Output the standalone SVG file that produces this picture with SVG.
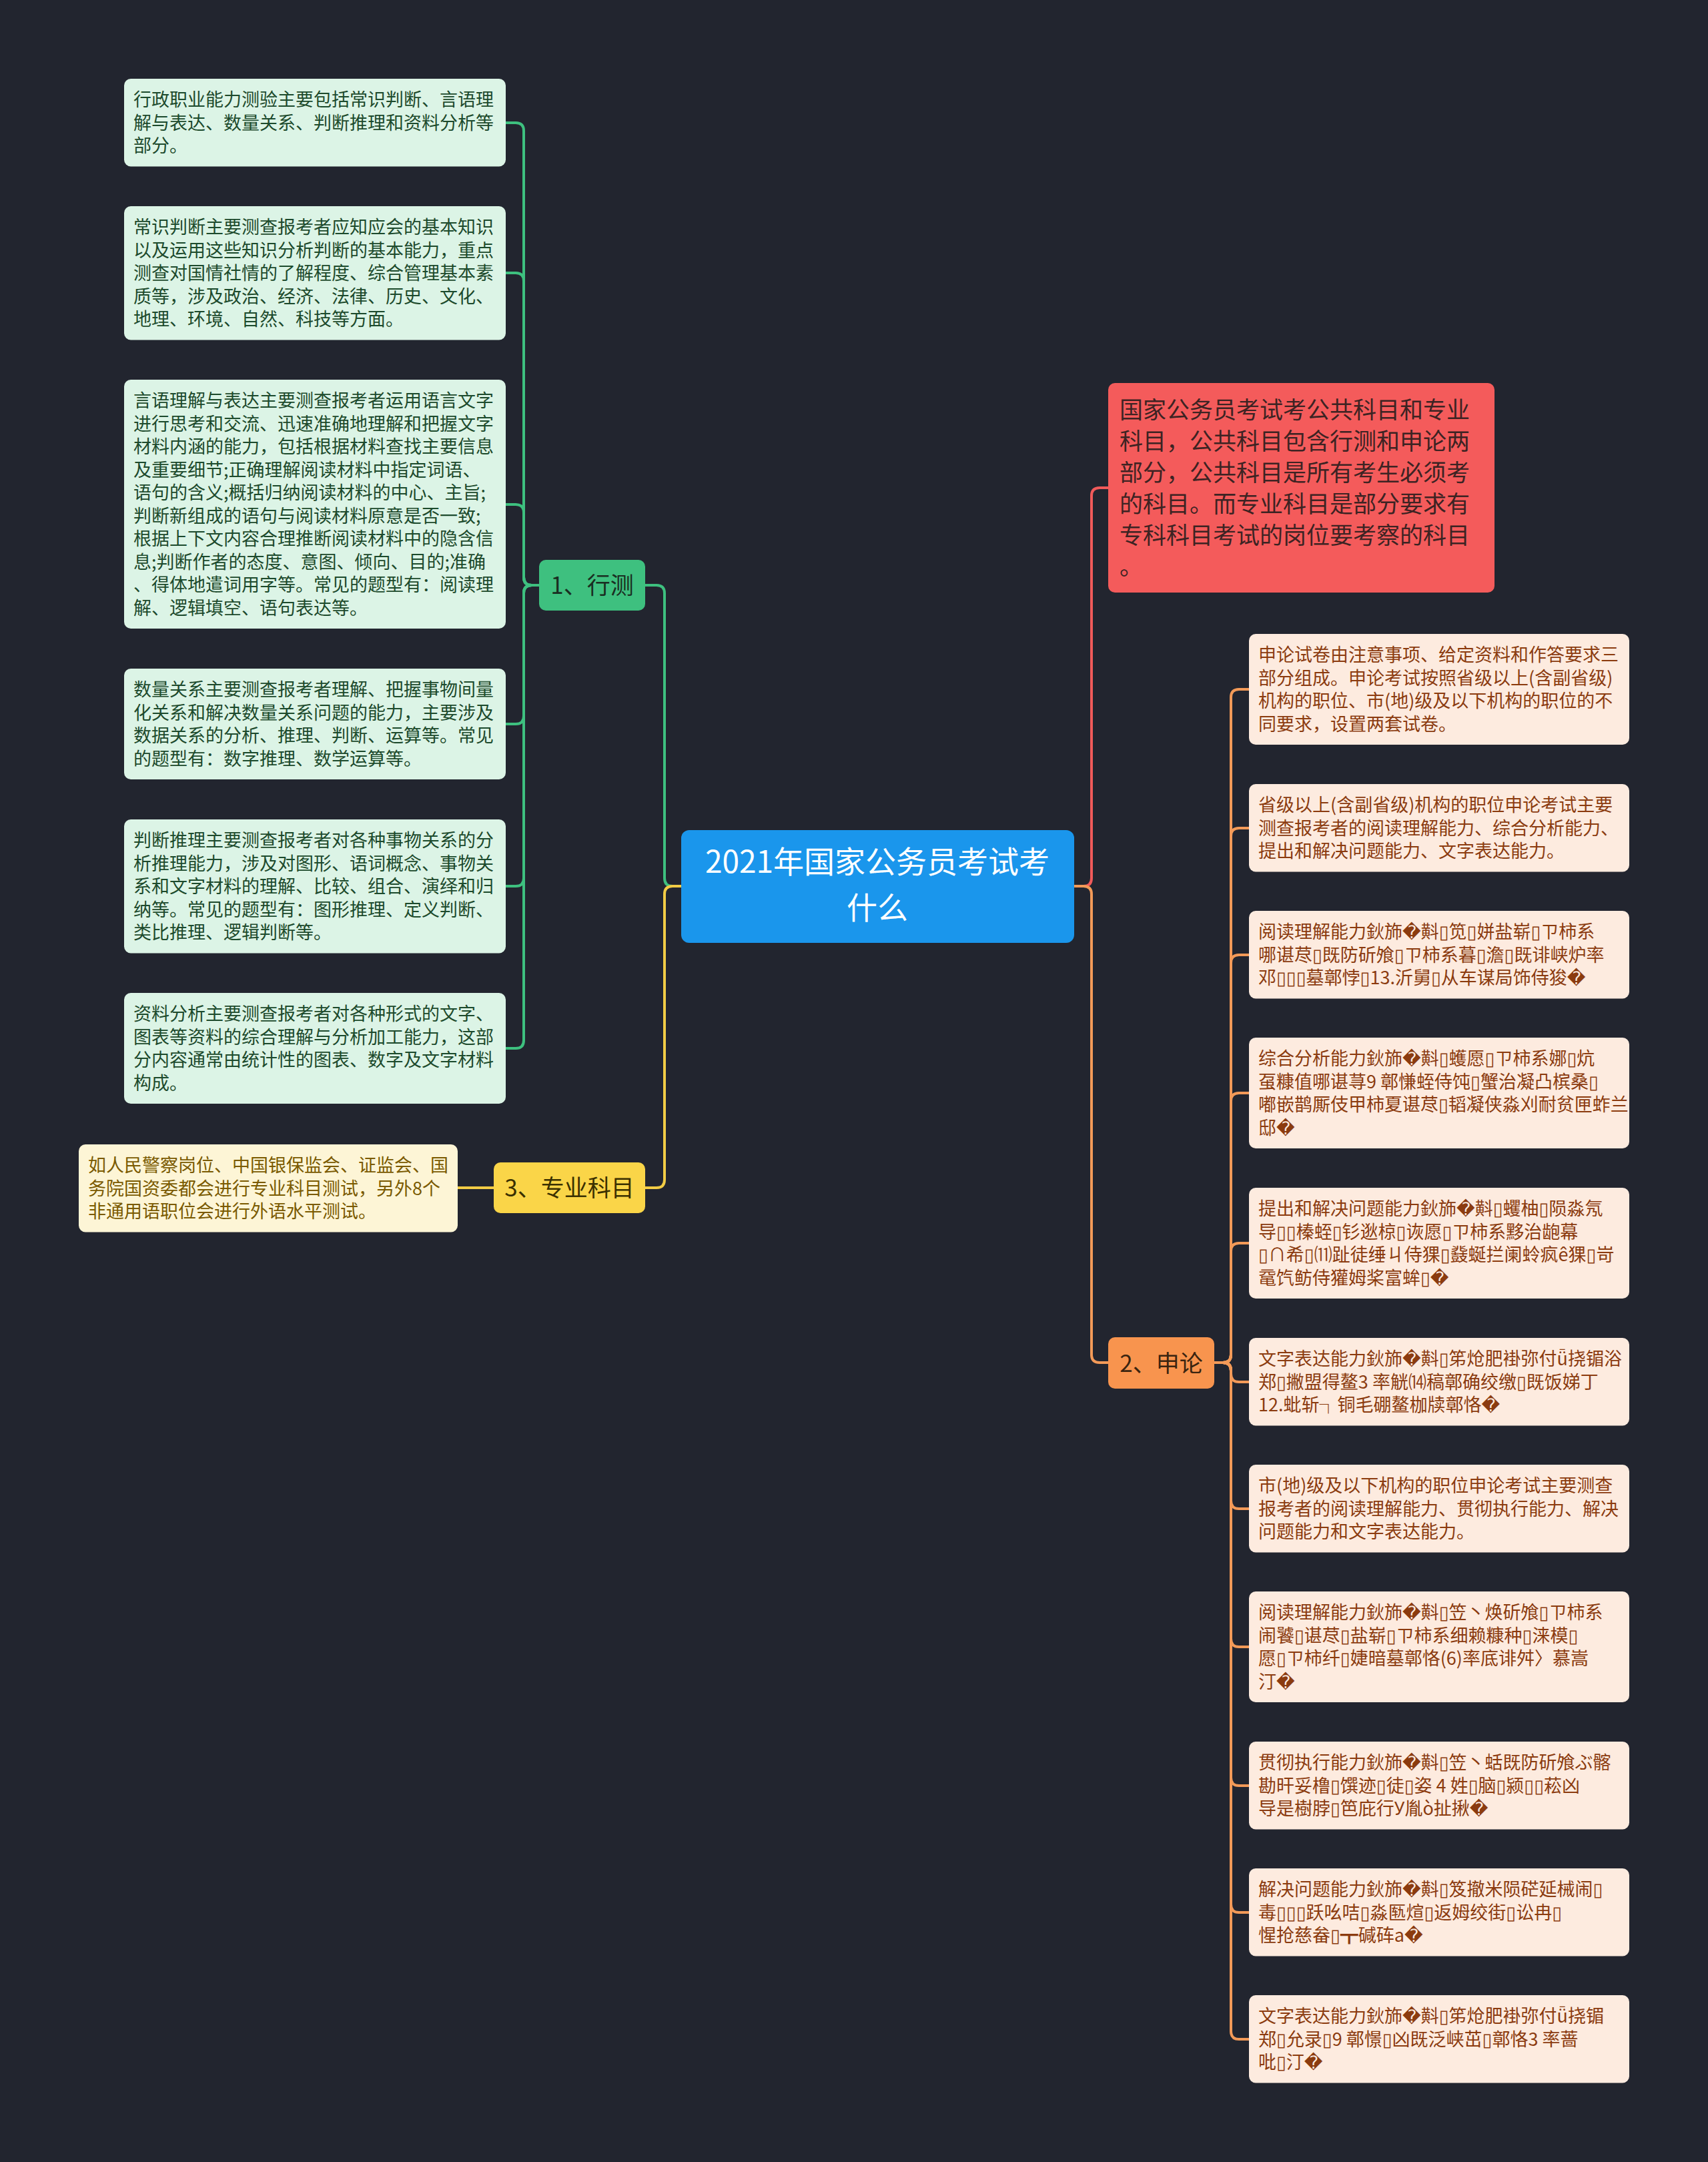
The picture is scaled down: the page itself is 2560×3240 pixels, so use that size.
<svg xmlns="http://www.w3.org/2000/svg" width="2560" height="3240" viewBox="0 0 2560 3240">
<style>
text{font-family:"Noto Sans CJK SC","DejaVu Sans","Noto Sans",sans-serif}
.lg rect{fill:#dcf4e6}
.lg text{fill:#1c4a2c;font-size:27px}
.ly rect{fill:#fdf5d6}
.ly text{fill:#7a5a00;font-size:27px}
.lo rect{fill:#fdebdf}
.lo text{fill:#8b3b0f;font-size:27px}
.c{fill:none;stroke-width:4;stroke-linecap:round}
.cg{stroke:#3ec07f}.cy{stroke:#f2cc45}.cr{stroke:#f05a5a}.co{stroke:#f39a58}
.nt{font-size:35px;text-anchor:middle}
</style>
<rect x="0" y="0" width="2560" height="3240" fill="#22252f"/>
<g id="connectors">
<path class="c cg" d="M1021 1328H1008Q996 1328 996 1316V889Q996 877 984 877H967"/>
<path class="c cy" d="M1021 1328H1008Q996 1328 996 1340V1768Q996 1780 984 1780H967"/>
<path class="c cr" d="M1610 1328H1624Q1636 1328 1636 1316V743Q1636 731 1648 731H1661"/>
<path class="c co" d="M1610 1328H1624Q1636 1328 1636 1340V2030Q1636 2042 1648 2042H1661"/>
<path class="c cg" d="M808 877H797Q785 877 785 865V196Q785 184 773 184H758"/>
<path class="c cg" d="M808 877H797Q785 877 785 865V421Q785 409 773 409H758"/>
<path class="c cg" d="M808 877H797Q785 877 785 865V768Q785 756 773 756H758"/>
<path class="c cg" d="M808 877H797Q785 877 785 889V1073Q785 1085 773 1085H758"/>
<path class="c cg" d="M808 877H797Q785 877 785 889V1316Q785 1328 773 1328H758"/>
<path class="c cg" d="M808 877H797Q785 877 785 889V1559Q785 1571 773 1571H758"/>
<path class="c cy" d="M740 1780H686"/>
<path class="c co" d="M1820 2042H1833Q1845 2042 1845 2030V1045Q1845 1033 1857 1033H1872"/>
<path class="c co" d="M1820 2042H1833Q1845 2042 1845 2030V1253Q1845 1241 1857 1241H1872"/>
<path class="c co" d="M1820 2042H1833Q1845 2042 1845 2030V1443Q1845 1431 1857 1431H1872"/>
<path class="c co" d="M1820 2042H1833Q1845 2042 1845 2030V1650Q1845 1638 1857 1638H1872"/>
<path class="c co" d="M1820 2042H1833Q1845 2042 1845 2030V1875Q1845 1863 1857 1863H1872"/>
<path class="c co" d="M1820 2042H1833Q1845 2042 1845 2054V2059Q1845 2071 1857 2071H1872"/>
<path class="c co" d="M1820 2042H1833Q1845 2042 1845 2054V2249Q1845 2261 1857 2261H1872"/>
<path class="c co" d="M1820 2042H1833Q1845 2042 1845 2054V2456Q1845 2468 1857 2468H1872"/>
<path class="c co" d="M1820 2042H1833Q1845 2042 1845 2054V2664Q1845 2676 1857 2676H1872"/>
<path class="c co" d="M1820 2042H1833Q1845 2042 1845 2054V2854Q1845 2866 1857 2866H1872"/>
<path class="c co" d="M1820 2042H1833Q1845 2042 1845 2054V3044Q1845 3056 1857 3056H1872"/>
</g>
<g id="center">
<rect x="1021" y="1244" width="589" height="169" rx="12" fill="#1a96ec"/>
<text font-size="46" fill="#ffffff" text-anchor="middle"><tspan x="1315" y="1308">2021年国家公务员考试考</tspan><tspan x="1315" y="1377">什么</tspan></text>
</g>
<g id="n1">
<rect x="808" y="839" width="159" height="76" rx="10" fill="#3ec07f"/>
<text class="nt" x="887.5" y="890" fill="#1a2e22">1、行测</text>
</g>
<g id="n3">
<rect x="740" y="1742" width="227" height="76" rx="10" fill="#fad548"/>
<text class="nt" x="853.5" y="1793" fill="#3a3000">3、专业科目</text>
</g>
<g id="n2">
<rect x="1661" y="2004" width="159" height="77" rx="10" fill="#f8944e"/>
<text class="nt" x="1740.5" y="2056" fill="#3a2410">2、申论</text>
</g>
<g id="nred">
<rect x="1661" y="574" width="579" height="314" rx="10" fill="#f45b5b"/>
<text font-size="35" fill="#3d2323">
<tspan x="1678" y="626.5">国家公务员考试考公共科目和专业</tspan>
<tspan x="1678" y="673.5">科目，公共科目包含行测和申论两</tspan>
<tspan x="1678" y="720.5">部分，公共科目是所有考生必须考</tspan>
<tspan x="1678" y="767.5">的科目。而专业科目是部分要求有</tspan>
<tspan x="1678" y="814.5">专科科目考试的岗位要考察的科目</tspan>
<tspan x="1678" y="861.5">。</tspan>
</text>
</g>
<g id="l1" class="lg">
<rect x="186" y="118" width="572" height="131.5" rx="10"/>
<text><tspan x="200" y="159">行政职业能力测验主要包括常识判断、言语理</tspan><tspan x="200" y="193.5">解与表达、数量关系、判断推理和资料分析等</tspan><tspan x="200" y="228">部分。</tspan></text>
</g>
<g id="l2" class="lg">
<rect x="186" y="309" width="572" height="200.5" rx="10"/>
<text><tspan x="200" y="350">常识判断主要测查报考者应知应会的基本知识</tspan><tspan x="200" y="384.5">以及运用这些知识分析判断的基本能力，重点</tspan><tspan x="200" y="419">测查对国情社情的了解程度、综合管理基本素</tspan><tspan x="200" y="453.5">质等，涉及政治、经济、法律、历史、文化、</tspan><tspan x="200" y="488">地理、环境、自然、科技等方面。</tspan></text>
</g>
<g id="l3" class="lg">
<rect x="186" y="569" width="572" height="373" rx="10"/>
<text><tspan x="200" y="610">言语理解与表达主要测查报考者运用语言文字</tspan><tspan x="200" y="644.5">进行思考和交流、迅速准确地理解和把握文字</tspan><tspan x="200" y="679">材料内涵的能力，包括根据材料查找主要信息</tspan><tspan x="200" y="713.5">及重要细节;正确理解阅读材料中指定词语、</tspan><tspan x="200" y="748">语句的含义;概括归纳阅读材料的中心、主旨;</tspan><tspan x="200" y="782.5">判断新组成的语句与阅读材料原意是否一致;</tspan><tspan x="200" y="817">根据上下文内容合理推断阅读材料中的隐含信</tspan><tspan x="200" y="851.5">息;判断作者的态度、意图、倾向、目的;准确</tspan><tspan x="200" y="886">、得体地遣词用字等。常见的题型有：阅读理</tspan><tspan x="200" y="920.5">解、逻辑填空、语句表达等。</tspan></text>
</g>
<g id="l4" class="lg">
<rect x="186" y="1002" width="572" height="166" rx="10"/>
<text><tspan x="200" y="1043">数量关系主要测查报考者理解、把握事物间量</tspan><tspan x="200" y="1077.5">化关系和解决数量关系问题的能力，主要涉及</tspan><tspan x="200" y="1112">数据关系的分析、推理、判断、运算等。常见</tspan><tspan x="200" y="1146.5">的题型有：数字推理、数学运算等。</tspan></text>
</g>
<g id="l5" class="lg">
<rect x="186" y="1228" width="572" height="200.5" rx="10"/>
<text><tspan x="200" y="1269">判断推理主要测查报考者对各种事物关系的分</tspan><tspan x="200" y="1303.5">析推理能力，涉及对图形、语词概念、事物关</tspan><tspan x="200" y="1338">系和文字材料的理解、比较、组合、演绎和归</tspan><tspan x="200" y="1372.5">纳等。常见的题型有：图形推理、定义判断、</tspan><tspan x="200" y="1407">类比推理、逻辑判断等。</tspan></text>
</g>
<g id="l6" class="lg">
<rect x="186" y="1488" width="572" height="166" rx="10"/>
<text><tspan x="200" y="1529">资料分析主要测查报考者对各种形式的文字、</tspan><tspan x="200" y="1563.5">图表等资料的综合理解与分析加工能力，这部</tspan><tspan x="200" y="1598">分内容通常由统计性的图表、数字及文字材料</tspan><tspan x="200" y="1632.5">构成。</tspan></text>
</g>
<g id="l7" class="ly">
<rect x="118" y="1715" width="568" height="131.5" rx="10"/>
<text><tspan x="132" y="1756">如人民警察岗位、中国银保监会、证监会、国</tspan><tspan x="132" y="1790.5">务院国资委都会进行专业科目测试，另外8个</tspan><tspan x="132" y="1825">非通用语职位会进行外语水平测试。</tspan></text>
</g>
<g id="r1" class="lo">
<rect x="1872" y="950" width="570" height="166" rx="10"/>
<text><tspan x="1886" y="991">申论试卷由注意事项、给定资料和作答要求三</tspan><tspan x="1886" y="1025.5">部分组成。申论考试按照省级以上(含副省级)</tspan><tspan x="1886" y="1060">机构的职位、市(地)级及以下机构的职位的不</tspan><tspan x="1886" y="1094.5">同要求，设置两套试卷。</tspan></text>
</g>
<g id="r2" class="lo">
<rect x="1872" y="1175" width="570" height="131.5" rx="10"/>
<text><tspan x="1886" y="1216">省级以上(含副省级)机构的职位申论考试主要</tspan><tspan x="1886" y="1250.5">测查报考者的阅读理解能力、综合分析能力、</tspan><tspan x="1886" y="1285">提出和解决问题能力、文字表达能力。</tspan></text>
</g>
<g id="r3" class="lo">
<rect x="1872" y="1365" width="570" height="131.5" rx="10"/>
<text><tspan x="1886" y="1406">阅读理解能力鈥斾�斢▯笕▯姘盐崭▯ㄗ柿系</tspan><tspan x="1886" y="1440.5">哪谌荩▯既防斫飧▯ㄗ柿系暮▯澹▯既诽峡炉率</tspan><tspan x="1886" y="1475">邓▯▯▯墓鄣悖▯13.沂舅▯从车谋局饰侍狻�</tspan></text>
</g>
<g id="r4" class="lo">
<rect x="1872" y="1555" width="570" height="166" rx="10"/>
<text><tspan x="1886" y="1596">综合分析能力鈥斾�斢▯蠖愿▯ㄗ柿系娜▯炕</tspan><tspan x="1886" y="1630.5">虿糠值哪谌荨9 鄣慊蛭侍饨▯蟹治凝凸槟桑▯</tspan><tspan x="1886" y="1665">嘟嵌鹊厮伎甲柿夏谌荩▯韬凝侠淼刈耐贫匣蚱兰</tspan><tspan x="1886" y="1699.5">邸�</tspan></text>
</g>
<g id="r5" class="lo">
<rect x="1872" y="1780" width="570" height="166" rx="10"/>
<text><tspan x="1886" y="1821">提出和解决问题能力鈥斾�斢▯蠼柚▯陨淼氖</tspan><tspan x="1886" y="1855.5">导▯▯榛蛭▯钐逖椋▯诙愿▯ㄗ柿系黟治龅幕</tspan><tspan x="1886" y="1890">▯∩希▯⑾趾徒缍ㄐ侍猓▯鼗蜒拦阑蛉疯ê猓▯岢</tspan><tspan x="1886" y="1924.5">鼋饩鲂侍獾姆桨富蛑▯�</tspan></text>
</g>
<g id="r6" class="lo">
<rect x="1872" y="2005" width="570" height="131.5" rx="10"/>
<text><tspan x="1886" y="2046">文字表达能力鈥斾�斢▯笫炝肥褂弥付ǖ挠镅浴</tspan><tspan x="1886" y="2080.5">郑▯撇盟得鳌3 率觥⒁稿鄣确绞缴▯既饭娣丁</tspan><tspan x="1886" y="2115">12.蚍斩┐铜毛硼鳌枷牍鄣恪�</tspan></text>
</g>
<g id="r7" class="lo">
<rect x="1872" y="2195" width="570" height="131.5" rx="10"/>
<text><tspan x="1886" y="2236">市(地)级及以下机构的职位申论考试主要测查</tspan><tspan x="1886" y="2270.5">报考者的阅读理解能力、贯彻执行能力、解决</tspan><tspan x="1886" y="2305">问题能力和文字表达能力。</tspan></text>
</g>
<g id="r8" class="lo">
<rect x="1872" y="2385" width="570" height="166" rx="10"/>
<text><tspan x="1886" y="2426">阅读理解能力鈥斾�斢▯笠丶焕斫飧▯ㄗ柿系</tspan><tspan x="1886" y="2460.5">闹饕▯谌荩▯盐崭▯ㄗ柿系细赖糠种▯涞模▯</tspan><tspan x="1886" y="2495">愿▯ㄗ柿纤▯婕暗墓鄣恪(6)率底诽舛〉慕嵩</tspan><tspan x="1886" y="2529.5">汀�</tspan></text>
</g>
<g id="r9" class="lo">
<rect x="1872" y="2610" width="570" height="131.5" rx="10"/>
<text><tspan x="1886" y="2651">贯彻执行能力鈥斾�斢▯笠丶蛞既防斫飧ぶ髂</tspan><tspan x="1886" y="2685.5">勘旰妥橹▯馔迹▯徒▯姿 4 姓▯脑▯颍▯▯菘凶</tspan><tspan x="1886" y="2720">导是樹脖▯笆庇行У胤ò扯揪�</tspan></text>
</g>
<g id="r10" class="lo">
<rect x="1872" y="2800" width="570" height="131.5" rx="10"/>
<text><tspan x="1886" y="2841">解决问题能力鈥斾�斢▯笈撤米陨硭延械闹▯</tspan><tspan x="1886" y="2875.5">毒▯▯▯跃吆咭▯淼匦煊▯返姆绞街▯讼冉▯</tspan><tspan x="1886" y="2910">惺抢慈畚▯┳碱砗a�</tspan></text>
</g>
<g id="r11" class="lo">
<rect x="1872" y="2990" width="570" height="131.5" rx="10"/>
<text><tspan x="1886" y="3031">文字表达能力鈥斾�斢▯笫炝肥褂弥付ǖ挠镅</tspan><tspan x="1886" y="3065.5">郑▯允录▯9 鄣憬▯凶既泛峡茁▯鄣恪3 率蔷</tspan><tspan x="1886" y="3100">吡▯汀�</tspan></text>
</g>
</svg>
